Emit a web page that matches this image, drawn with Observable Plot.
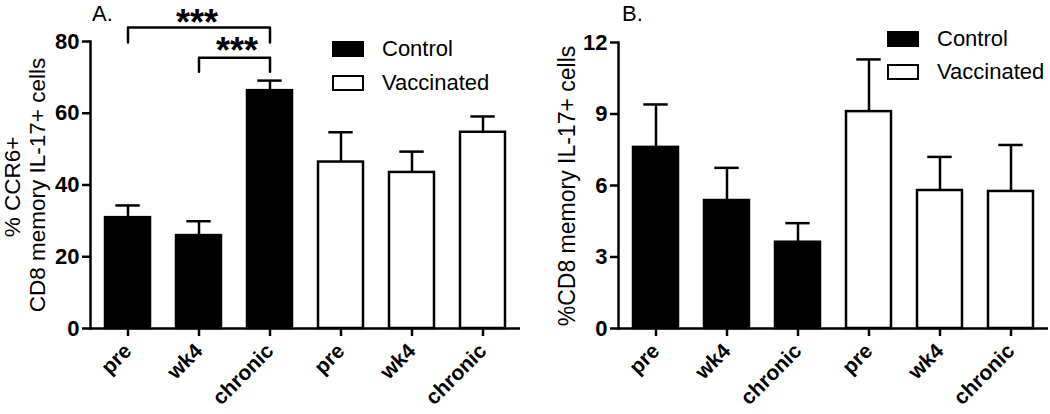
<!DOCTYPE html>
<html>
<head>
<meta charset="utf-8">
<script src="https://cdn.jsdelivr.net/npm/d3@7"></script>
<script src="https://cdn.jsdelivr.net/npm/@observablehq/plot@0.6"></script>
<style>
  html, body { margin: 0; padding: 0; background: #fff; }
  #wrap { position: relative; width: 1050px; height: 414px; overflow: hidden; font-family: "Liberation Sans", Arial, sans-serif; color: #000; }
  .panel { position: absolute; top: 0; }
  .rot { position: absolute; width: 0; height: 0; }
  .rot span { position: absolute; transform: translate(-50%, -50%) rotate(-90deg); white-space: nowrap; left: 0; top: 0; line-height: 1; }
  .letter { position: absolute; font-size: 22px; line-height: 1; }
  .leg { position: absolute; display: flex; align-items: center; font-size: 22px; line-height: 1; white-space: nowrap; }
  .sw { width: 32px; height: 16px; box-sizing: border-box; border: 2.5px solid #000; margin-right: 18px; }
</style>
</head>
<body>
<div id="wrap"></div>
<script>
// ---- data ----
const times = ["pre", "wk4", "chronic"];
const groups = ["Control", "Vaccinated"];

// Panel A: %CCR6+ CD8 memory IL-17+ cells (mean, upper error bar)
const ccr6Control = [30.9, 25.9, 66.3];
const ccr6ControlHi = [34.3, 29.9, 69.1];
const ccr6Vaccinated = [46.4, 43.5, 54.7];
const ccr6VaccinatedHi = [54.7, 49.3, 59.1];
const ticksA = [0, 20, 40, 60, 80];

// Panel B: %CD8 memory IL-17+ cells
const il17Control = [7.6, 5.37, 3.62];
const il17ControlHi = [9.4, 6.74, 4.42];
const il17Vaccinated = [9.1, 5.79, 5.75];
const il17VaccinatedHi = [11.29, 7.2, 7.7];
const ticksB = [0, 3, 6, 9, 12];

// significance brackets on panel A
const bracketFrom = ["Control|pre", "Control|wk4"];
const bracketTo = ["Control|chronic", "Control|chronic"];
const bracketTop = [83.9, 75.5];
const bracketBottom = [79.7, 71.6];
const bracketLabel = ["***", "***"];
const bracketLabelX = ["Control|wk4", "Control|wk4"];
const bracketLabelDx = [-2, 38];
const bracketLabelY = [85.0, 77.2];

// ---- helpers ----
const keys = groups.flatMap(g => times.map(t => g + "|" + t));
function rows(ctrl, ctrlHi, vacc, vaccHi) {
  const out = [];
  times.forEach((t, i) => out.push({key: "Control|" + t, group: "Control", value: ctrl[i], hi: ctrlHi[i]}));
  times.forEach((t, i) => out.push({key: "Vaccinated|" + t, group: "Vaccinated", value: vacc[i], hi: vaccHi[i]}));
  return out;
}
const dataA = rows(ccr6Control, ccr6ControlHi, ccr6Vaccinated, ccr6VaccinatedHi);
const dataB = rows(il17Control, il17ControlHi, il17Vaccinated, il17VaccinatedHi);

const SW = 2.5;
const font = "Liberation Sans, Arial, sans-serif";

function panel(data, ydomain, yticks, opts, extra = []) {
  return Plot.plot({
    width: opts.width,
    height: 414,
    marginLeft: opts.marginLeft,
    marginRight: opts.marginRight,
    marginTop: opts.marginTop,
    marginBottom: 86,
    style: {fontFamily: font, fontSize: "21px", fontWeight: "bold", background: "transparent", overflow: "visible"},
    x: {type: "band", domain: keys, padding: 0, axis: null},
    y: {domain: ydomain, axis: null},
    marks: [
      Plot.ruleX(data, {x: "key", y1: "value", y2: "hi", stroke: "black", strokeWidth: SW}),
      Plot.tickY(data, {x: "key", y: "hi", stroke: "black", strokeWidth: SW, insetLeft: 23.3, insetRight: 23.3}),
      Plot.barY(data, {x: "key", y: "value", fill: d => d.group === "Control" ? "black" : "white", stroke: "black", strokeWidth: SW, insetLeft: 13, insetRight: 13}),
      Plot.ruleY([0], {stroke: "black", strokeWidth: SW}),
      Plot.frame({anchor: "left", stroke: "black", strokeWidth: SW}),
      Plot.axisY({ticks: yticks, tickSize: 8, tickPadding: 3, fontSize: 22, fontWeight: "bold", strokeWidth: SW, label: null}),
      Plot.axisX({tickSize: 8, tickPadding: 11, tickRotate: -45, fontSize: 21, fontWeight: "bold", strokeWidth: SW, label: null, tickFormat: d => d.split("|")[1]}),
      ...extra
    ]
  });
}

// bracket marks for panel A
const bracketLines = bracketFrom.flatMap((f, i) => [
  {id: i, x: f, y: bracketBottom[i]},
  {id: i, x: f, y: bracketTop[i]},
  {id: i, x: bracketTo[i], y: bracketTop[i]},
  {id: i, x: bracketTo[i], y: bracketBottom[i]}
]);
const starData = bracketLabel.map((s, i) => ({x: bracketLabelX[i], y: bracketLabelY[i], text: s, dx: bracketLabelDx[i]}));
const extraA = [
  Plot.line(bracketLines, {x: "x", y: "y", z: "id", stroke: "black", strokeWidth: SW, curve: "linear"}),
  ...starData.map(s => Plot.text([s], {x: "x", y: "y", text: "text", dx: s.dx, fontSize: 36, fontWeight: "bold", fill: "black"}))
];

const wrap = document.getElementById("wrap");

const svgA = panel(dataA, [0, 80], ticksA, {width: 540, marginLeft: 90, marginRight: 20, marginTop: 41}, extraA);
svgA.classList.add("panel");
svgA.style.left = "0px";
wrap.appendChild(svgA);

const svgB = panel(dataB, [0, 12], ticksB, {width: 510, marginLeft: 78, marginRight: 2, marginTop: 42});
svgB.classList.add("panel");
svgB.style.left = "540px";
wrap.appendChild(svgB);

// ---- text overlays ----
function rotLabel(x, y, html, size) {
  const d = document.createElement("div");
  d.className = "rot";
  d.style.left = x + "px";
  d.style.top = y + "px";
  const s = document.createElement("span");
  s.style.fontSize = size + "px";
  s.innerHTML = html;
  d.appendChild(s);
  wrap.appendChild(d);
}
rotLabel(13, 187, "% CCR6+", 22.5);
rotLabel(38, 185, "CD8 memory IL-17+ cells", 22.5);
rotLabel(567, 186, "%CD8 memory IL-17+ cells", 23);

function letter(x, y, t) {
  const d = document.createElement("div");
  d.className = "letter";
  d.style.left = x + "px";
  d.style.top = y + "px";
  d.textContent = t;
  wrap.appendChild(d);
}
letter(92, 3, "A.");
letter(622, 3, "B.");

function legend(x, y, gap) {
  groups.forEach((g, i) => {
    const d = document.createElement("div");
    d.className = "leg";
    d.style.left = x + "px";
    d.style.top = (y + i * gap) + "px";
    const sw = document.createElement("div");
    sw.className = "sw";
    sw.style.background = g === "Control" ? "#000" : "#fff";
    d.appendChild(sw);
    const t = document.createElement("span");
    t.textContent = g;
    d.appendChild(t);
    wrap.appendChild(d);
  });
}
legend(332, 38, 34);
legend(887, 28, 33);
</script>
</body>
</html>
